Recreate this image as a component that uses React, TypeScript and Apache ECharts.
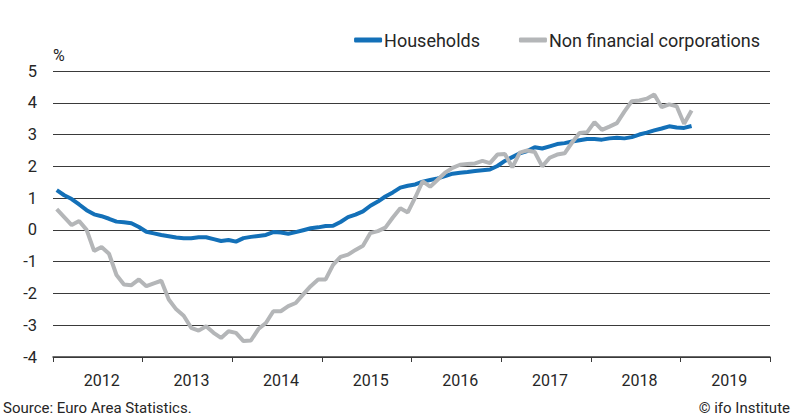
import React, { useEffect, useRef } from "react";
import * as echarts from "echarts";

const years = ["2012", "2013", "2014", "2015", "2016", "2017", "2018", "2019"];

// Monthly values, Jan 2012 – Feb 2019 (%)
const households = [
  1.25, 1.09, 0.97, 0.8, 0.62, 0.49, 0.43, 0.35, 0.26, 0.24, 0.21, 0.09,
  -0.06, -0.11, -0.16, -0.2, -0.24, -0.26, -0.26, -0.23, -0.23, -0.29, -0.35, -0.32,
  -0.37, -0.26, -0.22, -0.19, -0.16, -0.07, -0.08, -0.12, -0.07, -0.01, 0.05, 0.08,
  0.12, 0.13, 0.25, 0.4, 0.48, 0.58, 0.76, 0.89, 1.05, 1.18, 1.33, 1.39,
  1.43, 1.52, 1.57, 1.62, 1.69, 1.77, 1.8, 1.82, 1.85, 1.88, 1.9, 2.01,
  2.17, 2.29, 2.41, 2.48, 2.6, 2.56, 2.63, 2.7, 2.73, 2.78, 2.82, 2.86,
  2.86, 2.84, 2.88, 2.9, 2.88, 2.92, 3.0, 3.06, 3.13, 3.19, 3.26, 3.22,
  3.21, 3.27,
];

const nonFinancial = [
  0.65, 0.4, 0.15, 0.28, 0.0, -0.66, -0.54, -0.75, -1.42, -1.72, -1.74, -1.56,
  -1.77, -1.68, -1.6, -2.19, -2.5, -2.7, -3.08, -3.17, -3.03, -3.24, -3.4, -3.19,
  -3.24, -3.5, -3.48, -3.12, -2.93, -2.56, -2.56, -2.4, -2.3, -2.03, -1.77, -1.56,
  -1.56, -1.1, -0.85, -0.78, -0.63, -0.5, -0.1, -0.04, 0.07, 0.39, 0.68, 0.55,
  1.02, 1.53, 1.36, 1.58, 1.8, 1.95, 2.05, 2.07, 2.09, 2.17, 2.1, 2.37,
  2.39, 1.97, 2.43, 2.5, 2.45, 2.0, 2.27, 2.37, 2.41, 2.75, 3.05, 3.07,
  3.39, 3.15, 3.25, 3.36, 3.72, 4.05, 4.07, 4.13, 4.26, 3.86, 3.95, 3.89,
  3.34, 3.76,
];

const yMin = -4;
const yMax = 5;

const FONT = "Roboto, 'Noto Sans', sans-serif";
const TEXT = "#262626";
const BLUE = "#1370b8";
const GRAY = "#b4b6b8";

export default function App() {
  const ref = useRef<HTMLDivElement>(null);

  useEffect(() => {
    if (!ref.current) return;
    const chart = echarts.init(ref.current, undefined, { renderer: "svg" });
    const toPairs = (arr: number[]) => arr.map((v, i) => [i + 0.5, v]);
    chart.setOption({
      animation: false,
      textStyle: { fontFamily: FONT, color: TEXT },
      grid: { left: 53, right: 25, top: 71, bottom: 59, containLabel: false },
      legend: {
        right: 30,
        top: 26,
        icon: "roundRect",
        itemWidth: 28,
        itemHeight: 5,
        itemGap: 39,
        textStyle: { fontSize: 18, color: TEXT, fontFamily: FONT, padding: [0, 0, 0, -3] },
        data: ["Households", "Non financial corporations"],
      },
      xAxis: [
        {
          type: "value",
          min: 0,
          max: 96,
          show: false,
        },
        {
          type: "category",
          data: years,
          position: "bottom",
          boundaryGap: true,
          axisLine: { show: true, lineStyle: { color: "#3a3a3a", width: 1.5 } },
          axisTick: { show: true, length: 5, lineStyle: { color: "#3a3a3a", width: 1 } },
          axisLabel: {
            color: TEXT,
            fontSize: 16,
            fontFamily: FONT,
            margin: 15,
            padding: [0, 0, 0, 8],
          },
          splitLine: { show: false },
        },
      ],
      yAxis: {
        type: "value",
        min: yMin,
        max: yMax,
        interval: 1,
        axisLine: { show: false },
        axisTick: { show: false },
        axisLabel: { color: TEXT, fontSize: 16.5, fontFamily: FONT, margin: 16 },
        splitLine: { show: true, lineStyle: { color: "#3a3a3a", width: 1 } },
      },
      graphic: [
        {
          type: "text",
          left: 53,
          top: 47,
          style: { text: "%", fontSize: 16, fontFamily: FONT, fill: TEXT },
        },
        {
          type: "text",
          left: 3,
          top: 400,
          style: {
            text: "Source: Euro Area Statistics.",
            fontSize: 15,
            fontFamily: FONT,
            fill: TEXT,
          },
        },
        {
          type: "text",
          right: 5,
          top: 400,
          style: { text: "© ifo Institute", fontSize: 15, fontFamily: FONT, fill: TEXT },
        },
      ],
      series: [
        {
          name: "Households",
          type: "line",
          xAxisIndex: 0,
          data: toPairs(households),
          showSymbol: false,
          symbol: "none",
          lineStyle: { color: BLUE, width: 4 },
          itemStyle: { color: BLUE },
          z: 3,
        },
        {
          name: "Non financial corporations",
          type: "line",
          xAxisIndex: 0,
          data: toPairs(nonFinancial),
          showSymbol: false,
          symbol: "none",
          lineStyle: { color: GRAY, width: 4 },
          itemStyle: { color: GRAY },
          z: 4,
        },
      ],
    });
    return () => chart.dispose();
  }, []);

  return (
    <div
      ref={ref}
      style={{ width: 795, height: 416, position: "absolute", left: 0, top: 0 }}
    />
  );
}
